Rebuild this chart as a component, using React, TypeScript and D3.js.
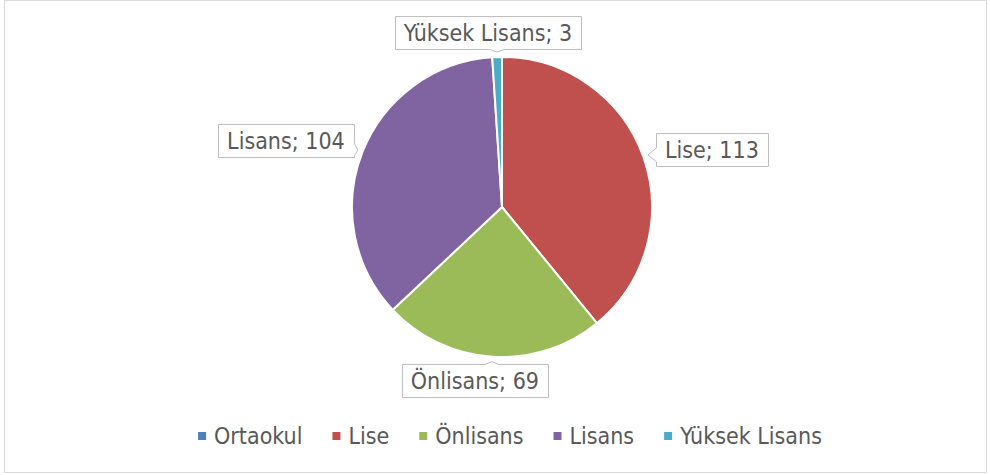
import React from "react";
import * as d3 from "d3";

const categories = ["Ortaokul", "Lise", "Önlisans", "Lisans", "Yüksek Lisans"];
const values = [0, 113, 69, 104, 3];
const colors = ["#4f81bd", "#c0504d", "#9bbb59", "#8064a2", "#4bacc6"];

const W = 990;
const H = 475;
const FONT = "'DejaVu Sans Condensed', 'DejaVu Sans', sans-serif";
const FS = 23;

function measure(text: string): number {
  const c = document.createElement("canvas").getContext("2d");
  if (!c) return text.length * 11;
  c.font = `${FS}px 'DejaVu Sans Condensed'`;
  return c.measureText(text).width;
}

type Side = "left" | "right" | "top" | "bottom";

function calloutPath(x0: number, y0: number, x1: number, y1: number, side: Side, ax: number, ay: number) {
  const hw = 7;
  if (side === "left") {
    const b1 = Math.max(y0 + 2, ay - hw), b2 = Math.min(y1 - 2, ay + hw);
    return `M${x0},${y0}H${x1}V${y1}H${x0}V${b2}L${ax},${ay}L${x0},${b1}Z`;
  }
  if (side === "right") {
    const b1 = Math.max(y0 + 2, ay - hw), b2 = Math.min(y1 - 2, ay + hw);
    return `M${x0},${y0}H${x1}V${b1}L${ax},${ay}L${x1},${b2}V${y1}H${x0}Z`;
  }
  if (side === "top") {
    const b1 = Math.max(x0 + 2, ax - hw), b2 = Math.min(x1 - 2, ax + hw);
    return `M${x0},${y0}H${b1}L${ax},${ay}L${b2},${y0}H${x1}V${y1}H${x0}Z`;
  }
  const b1 = Math.max(x0 + 2, ax - hw), b2 = Math.min(x1 - 2, ax + hw);
  return `M${x0},${y0}H${x1}V${y1}H${b2}L${ax},${ay}L${b1},${y1}H${x0}Z`;
}

export default function App() {
  const cx = 502, cy = 207, r = 150;
  const pie = d3.pie<number>().sort(null).value((d) => d).startAngle(0).endAngle(2 * Math.PI);
  const arcs = pie(values);
  const arcGen = d3.arc<d3.PieArcDatum<number>>().innerRadius(0).outerRadius(r);

  const boxH = 33;
  const padX = 9;

  const labels = arcs
    .map((a, i) => {
      if (values[i] === 0) return null;
      const mid = (a.startAngle + a.endAngle) / 2;
      const ax = cx + (r + 5) * Math.sin(mid);
      const ay = cy - (r + 5) * Math.cos(mid);
      const text = `${categories[i]}; ${values[i]}`;
      const tw = measure(text);
      const bw = tw + padX * 2;
      let x0 = 0, y0 = 0, side: Side = "left";
      const s = Math.sin(mid), c = Math.cos(mid);
      if (Math.abs(s) > 0.7) {
        if (s > 0) {
          side = "left";
          x0 = ax + 8;
          y0 = ay - 22;
        } else {
          side = "right";
          x0 = ax - 4 - bw;
          y0 = ay - 26;
        }
      } else if (c > 0) {
        side = "bottom";
        x0 = ax - bw / 2 - 9;
        y0 = ay - 3 - boxH;
      } else {
        side = "top";
        x0 = ax - bw / 2 - 17;
        y0 = ay + 2;
      }
      const x1 = x0 + bw, y1 = y0 + boxH;
      return { text, x0, y0, x1, y1, side, ax, ay, i };
    })
    .filter(Boolean) as any[];

  // legend layout
  const mk = 8, mkGap = 8, itemGap = 30;
  const widths = categories.map((c) => measure(c));
  const total = widths.reduce((s, w) => s + mk + mkGap + w, 0) + itemGap * (categories.length - 1);
  let lx = 510 - total / 2;
  const legendItems = categories.map((c, i) => {
    const item = { c, i, x: lx };
    lx += mk + mkGap + widths[i] + itemGap;
    return item;
  });
  const ly = 436;

  return (
    <svg
      width={W}
      height={H}
      style={{ position: "absolute", left: 0, top: 0, background: "#fff" }}
      fontFamily={FONT}
    >
      <rect x={4.5} y={0.5} width={982} height={472} fill="#fff" stroke="#d9d9d9" strokeWidth={1} />
      <g transform={`translate(${cx},${cy})`}>
        {arcs.map((a, i) => (
          <path key={i} d={arcGen(a) || ""} fill={colors[i]} stroke="#fff" strokeWidth={2} strokeLinejoin="round" />
        ))}
      </g>
      {labels.map((l) => (
        <g key={l.i}>
          <path
            d={calloutPath(Math.round(l.x0) + 0.5, Math.round(l.y0) + 0.5, Math.round(l.x1) + 0.5, Math.round(l.y1) + 0.5, l.side, l.ax, l.ay)}
            fill="#fff"
            stroke="#bfbfbf"
            strokeWidth={1}
          />
          <text x={l.x0 + padX} y={l.y0 + 25} fontSize={FS} fill="#595959">
            {l.text}
          </text>
        </g>
      ))}
      {legendItems.map((it) => (
        <g key={it.i}>
          <rect x={it.x} y={ly - mk / 2} width={mk} height={mk} fill={colors[it.i]} />
          <text x={it.x + mk + mkGap} y={ly + 8} fontSize={FS} fill="#595959">
            {it.c}
          </text>
        </g>
      ))}
    </svg>
  );
}
